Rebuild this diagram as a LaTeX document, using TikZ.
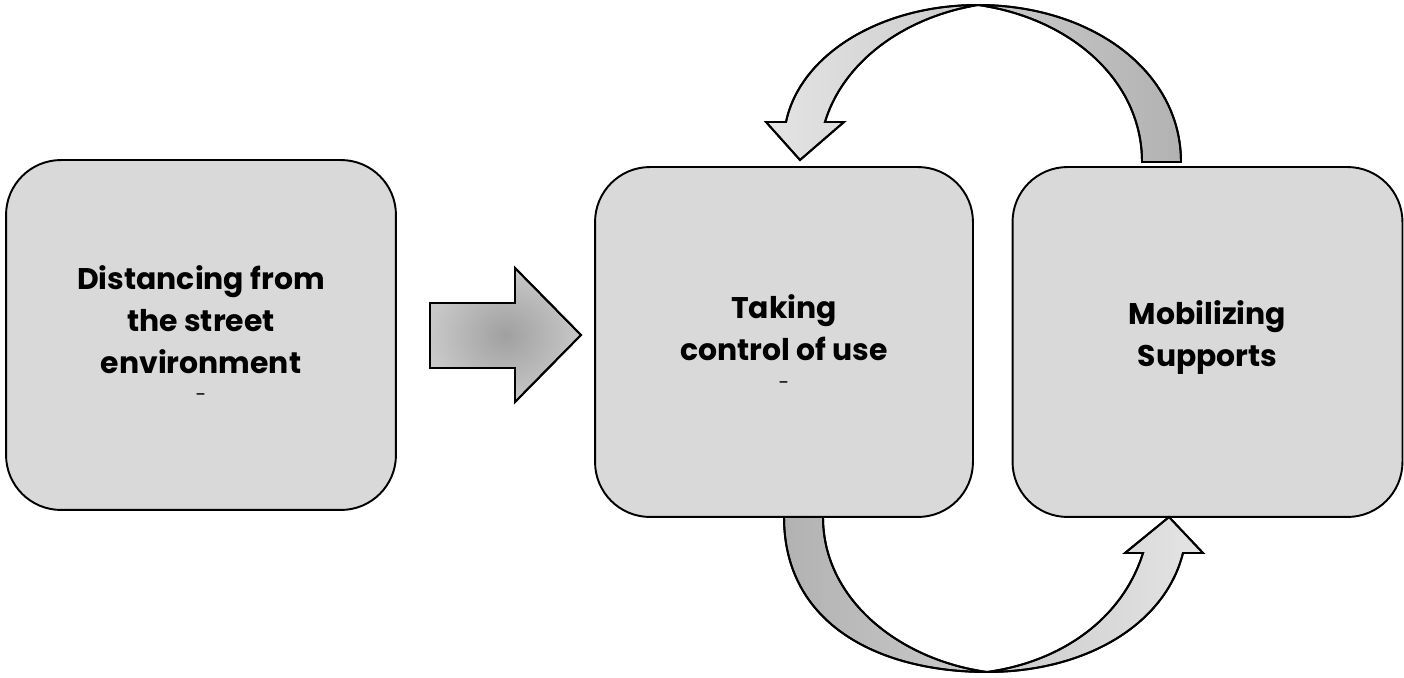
\documentclass[tikz,border=0pt]{standalone}
\usepackage{fontspec}
\setmainfont{Poppins}
\usepackage{tikz}
\usetikzlibrary{calc}

\definecolor{boxgray}{RGB}{217,217,217}
\definecolor{lightarrow}{RGB}{228,228,228}
\definecolor{darkarrow}{RGB}{178,178,178}

\tikzset{
  stage/.style={draw=black, line width=1.1pt, fill=boxgray, rounded corners=1.1cm,
    minimum width=7.8cm, minimum height=7cm, align=center,
    font=\fontsize{17}{24}\selectfont\bfseries},
  blockarrow/.style={draw=black, line width=1.1pt, line join=miter}
}

\newcommand{\smalldash}{\\[-8pt]{\fontsize{11}{12}\selectfont\mdseries -}}

\begin{document}
\begin{tikzpicture}[x=0.02cm, y=-0.02cm]
\useasboundingbox (0,0) rectangle (1404,678);

\node[stage] (distancing) at (201,335) {\\[-12pt]Distancing from\\the street\\environment\smalldash};
\node[stage, minimum width=7.56cm] (control) at (784,342) {Taking\\control of use\smalldash};
\node[stage] (supports) at (1207.5,342) {Mobilizing\\Supports\\[-14pt]\mbox{}};

% straight arrow
\shade[blockarrow, inner color={rgb,255:red,160;green,160;blue,160}, outer color={rgb,255:red,200;green,200;blue,200}]
  (430,303) -- (515,303) -- (515,268) -- (581,335) -- (515,402) -- (515,368) -- (430,368) -- cycle;
\draw[blockarrow]
  (430,303) -- (515,303) -- (515,268) -- (581,335) -- (515,402) -- (515,368) -- (430,368) -- cycle;

% top loop arrow
\shade[blockarrow, left color=lightarrow, right color=darkarrow]
  (1181,162) .. controls (1181,70) and (1090,5) .. (978,5)
  .. controls (880,5) and (800,55) .. (786,122) -- (766,122) -- (800,160) -- (844,122) -- (825,122)
  .. controls (842,65) and (900,18) .. (978,5)
  .. controls (1070,18) and (1142,80) .. (1142,162) -- cycle;
\draw[blockarrow]
  (1181,162) .. controls (1181,70) and (1090,5) .. (978,5)
  .. controls (880,5) and (800,55) .. (786,122) -- (766,122) -- (800,160) -- (844,122) -- (825,122)
  .. controls (842,65) and (900,18) .. (978,5)
  .. controls (1070,18) and (1142,80) .. (1142,162) -- cycle;

% bottom loop arrow
\shade[blockarrow, left color=darkarrow, right color=lightarrow]
  (784,517) .. controls (784,625) and (880,672) .. (987,672)
  .. controls (1085,672) and (1165,625) .. (1183,553) -- (1203,553) -- (1169,517) -- (1125,553) -- (1143,553)
  .. controls (1122,620) and (1060,662) .. (987,672)
  .. controls (900,660) and (823,600) .. (823,517) -- cycle;
\draw[blockarrow]
  (784,517) .. controls (784,625) and (880,672) .. (987,672)
  .. controls (1085,672) and (1165,625) .. (1183,553) -- (1203,553) -- (1169,517) -- (1125,553) -- (1143,553)
  .. controls (1122,620) and (1060,662) .. (987,672)
  .. controls (900,660) and (823,600) .. (823,517) -- cycle;

\end{tikzpicture}
\end{document}
